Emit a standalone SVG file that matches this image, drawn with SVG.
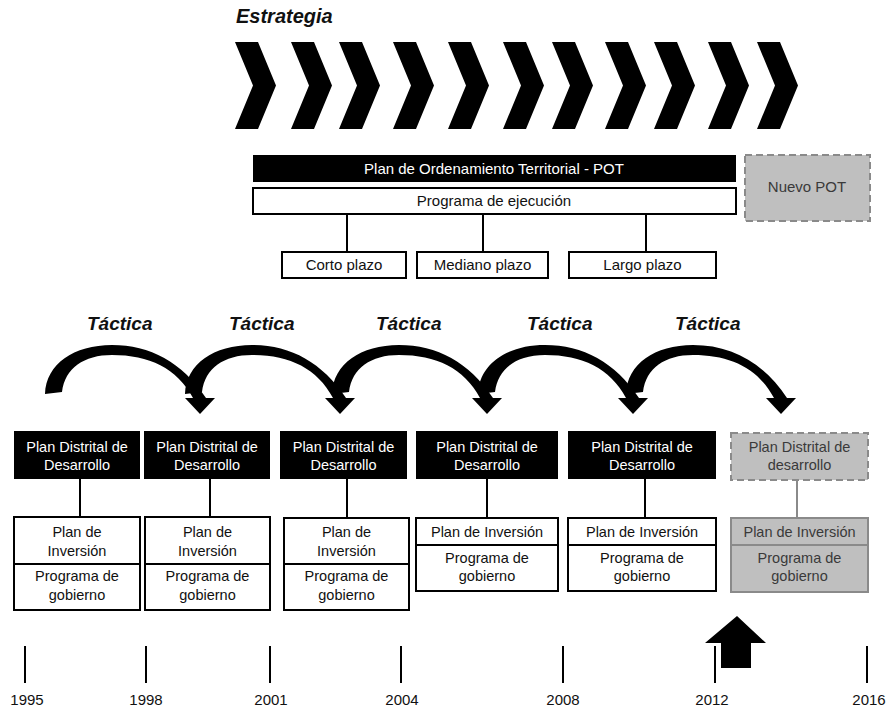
<svg xmlns="http://www.w3.org/2000/svg" width="889" height="713" viewBox="0 0 889 713">
<style>
text{font-family:"Liberation Sans",Arial,sans-serif;}
.ttl{font-weight:bold;font-style:italic;font-size:19px;fill:#111;}
.t{font-size:15px;text-anchor:middle;fill:#111;}
.tw{font-size:15px;text-anchor:middle;fill:#fff;}
.tb{font-size:14.5px;text-anchor:middle;fill:#111;}
.tbw{font-size:14.5px;text-anchor:middle;fill:#fff;}
.tg{font-size:14.5px;text-anchor:middle;fill:#3a3a3a;}
.blk{fill:#000;}
.wht{fill:#fff;stroke:#000;stroke-width:2;}
.gry{fill:#bfbfbf;stroke:#8a8a8a;stroke-width:2;}
.dash{stroke-dasharray:7 4;}
.ln{stroke:#000;stroke-width:2;fill:none;}
.lng{stroke:#8a8a8a;stroke-width:2;fill:none;}
.yr{font-size:15px;text-anchor:middle;fill:#111;}
</style>
<defs>
<polygon id="chev" points="0,42 23,42 41,85.5 23,129 0,129 18,85.5"/>
<path id="arc" d="M -9,394 C -8,364 20,345 58,345 C 96,345 128,362 152,398 L 161,398 L 146,414 L 131,398 L 139,398 C 123,368 95,355 58,355 C 30,355 11,368 8,392 Z"/>
</defs>

<text class="ttl" x="236" y="23" style="font-size:20px">Estrategia</text>
<g id="chevrons" fill="#000">
<use href="#chev" x="235"/><use href="#chev" x="291"/><use href="#chev" x="339"/><use href="#chev" x="393"/><use href="#chev" x="448"/><use href="#chev" x="503"/><use href="#chev" x="552"/><use href="#chev" x="605"/><use href="#chev" x="654"/><use href="#chev" x="708"/><use href="#chev" x="757"/>
</g>

<g id="connectors">
<line class="ln" x1="347" y1="214" x2="347" y2="252"/>
<line class="ln" x1="483" y1="214" x2="483" y2="252"/>
<line class="ln" x1="646" y1="214" x2="646" y2="252"/>
<line class="ln" x1="80" y1="479" x2="80" y2="517"/>
<line class="ln" x1="210" y1="479" x2="210" y2="517"/>
<line class="ln" x1="347" y1="479" x2="347" y2="518"/>
<line class="ln" x1="487" y1="479" x2="487" y2="518"/>
<line class="ln" x1="645" y1="479" x2="645" y2="518"/>
<line class="lng" x1="797" y1="480" x2="797" y2="518"/>
</g>

<g id="pot">
<rect class="blk" x="253" y="155" width="483" height="27"/>
<text class="tw" x="494" y="174">Plan de Ordenamiento Territorial - POT</text>
</g>
<g id="programa">
<rect class="wht" x="253" y="188" width="483" height="26"/>
<text class="t" x="494" y="206">Programa de ejecución</text>
</g>
<g id="nuevo-pot">
<rect class="gry dash" x="745" y="155" width="125" height="66"/>
<text class="t" x="807" y="192" style="fill:#3a3a3a">Nuevo POT</text>
</g>
<g id="corto"><rect class="wht" x="282" y="252" width="124" height="26"/><text class="t" x="344" y="270">Corto plazo</text></g>
<g id="mediano"><rect class="wht" x="417" y="252" width="131" height="26"/><text class="t" x="482.5" y="270">Mediano plazo</text></g>
<g id="largo"><rect class="wht" x="569" y="252" width="147" height="26"/><text class="t" x="642.5" y="270">Largo plazo</text></g>

<g id="tacticas">
<text class="ttl" x="87" y="330">Táctica</text>
<text class="ttl" x="229" y="330">Táctica</text>
<text class="ttl" x="376" y="330">Táctica</text>
<text class="ttl" x="527" y="330">Táctica</text>
<text class="ttl" x="675" y="330">Táctica</text>
</g>
<g id="arcs" fill="#000">
<use href="#arc" x="54"/>
<use href="#arc" x="194"/>
<use href="#arc" x="341"/>
<use href="#arc" x="487"/>
<use href="#arc" x="635"/>
</g>

<g id="pdd1"><rect class="blk" x="14" y="431" width="126" height="48"/><text class="tbw" x="77" y="452">Plan Distrital de</text><text class="tbw" x="77" y="470">Desarrollo</text></g>
<g id="pdd2"><rect class="blk" x="144" y="431" width="126" height="48"/><text class="tbw" x="207" y="452">Plan Distrital de</text><text class="tbw" x="207" y="470">Desarrollo</text></g>
<g id="pdd3"><rect class="blk" x="280" y="431" width="127" height="48"/><text class="tbw" x="343.5" y="452">Plan Distrital de</text><text class="tbw" x="343.5" y="470">Desarrollo</text></g>
<g id="pdd4"><rect class="blk" x="416" y="431" width="142" height="48"/><text class="tbw" x="487" y="452">Plan Distrital de</text><text class="tbw" x="487" y="470">Desarrollo</text></g>
<g id="pdd5"><rect class="blk" x="568" y="431" width="148" height="48"/><text class="tbw" x="642" y="452">Plan Distrital de</text><text class="tbw" x="642" y="470">Desarrollo</text></g>
<g id="pdd6"><rect class="gry dash" x="731" y="433" width="137" height="47"/><text class="tg" x="799.5" y="452">Plan Distrital de</text><text class="tg" x="799.5" y="470">desarrollo</text></g>

<g id="inv1"><rect class="wht" x="14" y="517" width="126" height="93"/><line class="ln" x1="14" y1="564" x2="140" y2="564"/><text class="tb" x="77" y="537">Plan de</text><text class="tb" x="77" y="556">Inversión</text><text class="tb" x="77" y="581">Programa de</text><text class="tb" x="77" y="600">gobierno</text></g>
<g id="inv2"><rect class="wht" x="145" y="517" width="125" height="93"/><line class="ln" x1="145" y1="564" x2="270" y2="564"/><text class="tb" x="207.5" y="537">Plan de</text><text class="tb" x="207.5" y="556">Inversión</text><text class="tb" x="207.5" y="581">Programa de</text><text class="tb" x="207.5" y="600">gobierno</text></g>
<g id="inv3"><rect class="wht" x="284" y="518" width="125" height="92"/><line class="ln" x1="284" y1="564" x2="409" y2="564"/><text class="tb" x="346.5" y="537">Plan de</text><text class="tb" x="346.5" y="556">Inversión</text><text class="tb" x="346.5" y="581">Programa de</text><text class="tb" x="346.5" y="600">gobierno</text></g>
<g id="inv4"><rect class="wht" x="416" y="518" width="142" height="73"/><line class="ln" x1="416" y1="545" x2="558" y2="545"/><text class="tb" x="487" y="537">Plan de Inversión</text><text class="tb" x="487" y="563">Programa de</text><text class="tb" x="487" y="581">gobierno</text></g>
<g id="inv5"><rect class="wht" x="568" y="518" width="148" height="73"/><line class="ln" x1="568" y1="545" x2="716" y2="545"/><text class="tb" x="642" y="537">Plan de Inversión</text><text class="tb" x="642" y="563">Programa de</text><text class="tb" x="642" y="581">gobierno</text></g>
<g id="inv6"><rect class="gry" x="731" y="518" width="137" height="74"/><line class="lng" x1="731" y1="545" x2="868" y2="545"/><text class="tg" x="799.5" y="537">Plan de Inversión</text><text class="tg" x="799.5" y="563">Programa de</text><text class="tg" x="799.5" y="581">gobierno</text></g>

<g id="timeline">
<line class="ln" x1="25" y1="646" x2="25" y2="683"/>
<line class="ln" x1="146" y1="646" x2="146" y2="683"/>
<line class="ln" x1="270" y1="646" x2="270" y2="683"/>
<line class="ln" x1="401" y1="646" x2="401" y2="683"/>
<line class="ln" x1="563" y1="646" x2="563" y2="683"/>
<line class="ln" x1="715" y1="646" x2="715" y2="683"/>
<line class="ln" x1="867" y1="646" x2="867" y2="683"/>
<text class="yr" x="27" y="705">1995</text>
<text class="yr" x="146" y="705">1998</text>
<text class="yr" x="271" y="705">2001</text>
<text class="yr" x="402" y="705">2004</text>
<text class="yr" x="563" y="705">2008</text>
<text class="yr" x="712" y="705">2012</text>
<text class="yr" x="869" y="705">2016</text>
</g>
<g id="up-arrow"><polygon fill="#000" points="737,616 766,643 751,643 751,668 721,668 721,643 705,643"/></g>
</svg>
